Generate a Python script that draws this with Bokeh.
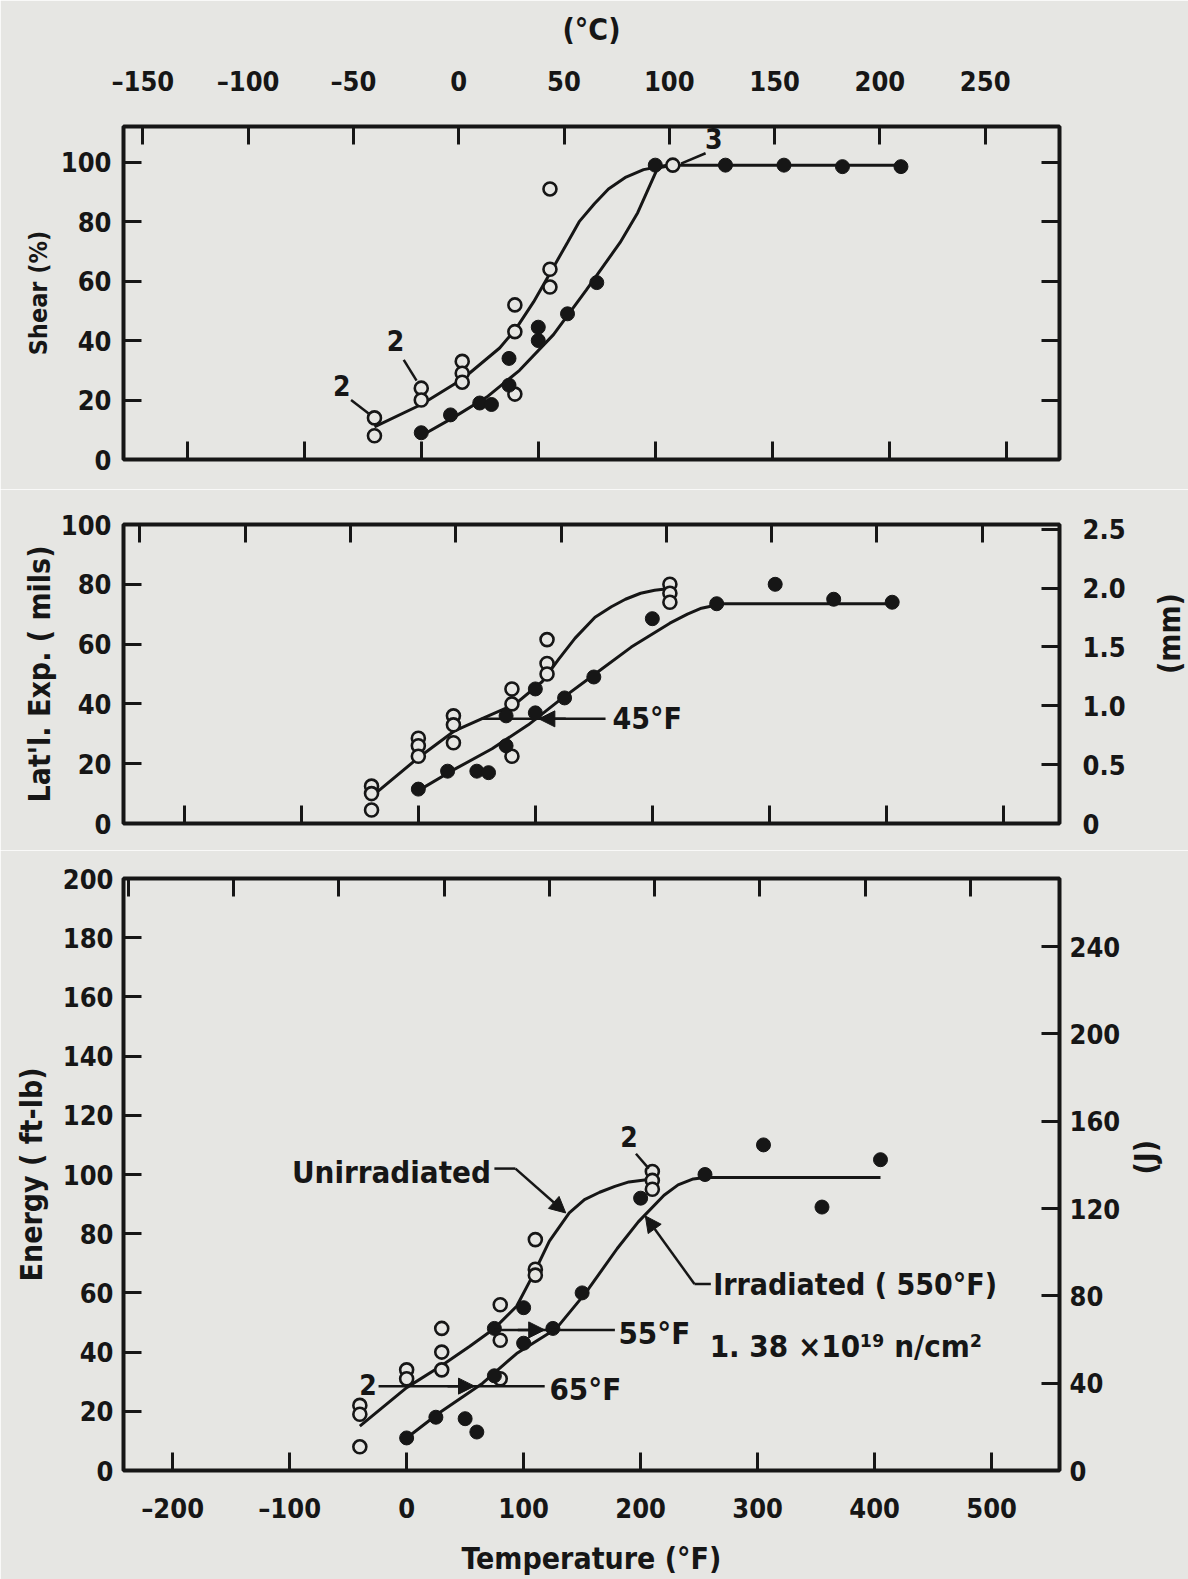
import math
from bokeh.plotting import figure
from bokeh.models import (Range1d, LinearAxis, FixedTicker, Arrow, NormalHead,
                          Label, CustomJSTickFormatter)
from bokeh.layouts import column
from bokeh.embed import file_html
from bokeh.resources import INLINE

# ---------------- data (temperature in deg F) ----------------
# Shear (%)
shear_unirr_T = [-40, -40, 0, 0, 35, 35, 35, 80, 80, 80, 110, 110, 110, 215]
shear_unirr_V = [14, 8, 24, 20, 33, 29, 26, 52, 43, 22, 91, 64, 58, 99]
shear_irr_T = [0, 25, 50, 60, 75, 75, 100, 100, 125, 150, 200, 260, 310, 360, 410]
shear_irr_V = [9, 15, 19, 18.5, 34, 25, 44.5, 40, 49, 59.5, 99, 99, 99, 98.5, 98.5]
shear_unirr_curve_T = [-40, 0, 35, 67, 81, 96, 112, 125, 135, 148, 160, 175, 190, 210]
shear_unirr_curve_V = [11, 18.5, 27, 37.5, 44, 53, 64, 73, 80, 86, 91, 95, 97.5, 99]
shear_irr_curve_T = [0, 27, 56, 84, 113, 141, 170, 185, 202, 215, 410]
shear_irr_curve_V = [8, 14, 21, 30, 42, 57, 73, 83, 98, 99, 99]

# Lateral expansion (mils)
lat_unirr_T = [-40, -40, -40, 0, 0, 0, 30, 30, 30, 80, 80, 80, 110, 110, 110, 215, 215, 215]
lat_unirr_V = [12.5, 10, 4.5, 28.5, 26, 22.5, 36, 33, 27, 45, 40, 22.5, 61.5, 53.5, 50, 80, 77, 74]
lat_irr_T = [0, 25, 50, 60, 75, 75, 100, 100, 125, 150, 200, 255, 305, 355, 405]
lat_irr_V = [11.5, 17.5, 17.5, 17, 26, 36, 45, 37, 42, 49, 68.5, 73.5, 80, 75, 74]
lat_unirr_curve_T = [-40, 0, 31, 54, 83, 106, 120, 134, 151, 165, 177, 190, 202, 213]
lat_unirr_curve_V = [9, 22, 31, 35, 40, 47.5, 55, 62, 69, 72.5, 75, 77, 78, 78.5]
lat_irr_curve_T = [0, 28, 63, 94, 120, 151, 182, 215, 230, 242, 260, 405]
lat_irr_curve_V = [11, 17.5, 25, 33, 41, 50, 59, 67, 70, 72, 73.5, 73.5]

# Energy (ft-lb)
en_unirr_T = [-40, -40, -40, 0, 0, 30, 30, 30, 80, 80, 80, 110, 110, 110, 210, 210, 210]
en_unirr_V = [22, 19, 8, 34, 31, 48, 40, 34, 56, 44, 31, 78, 68, 66, 101, 98, 95]
en_irr_T = [0, 25, 50, 60, 75, 75, 100, 100, 125, 150, 200, 255, 305, 355, 405]
en_irr_V = [11, 18, 17.5, 13, 48, 32, 55, 43, 48, 60, 92, 100, 110, 89, 105]
en_unirr_curve_T = [-40, 0, 30, 54, 75, 94, 108, 122, 139, 152, 165, 178, 190, 210]
en_unirr_curve_V = [15, 28, 35.5, 42, 48, 55.5, 66, 77.5, 87, 91.5, 94, 96, 97.5, 98.5]
en_irr_curve_T = [0, 28, 65, 94, 128, 153, 180, 198, 220, 232, 245, 255, 405]
en_irr_curve_V = [11, 19.5, 29.5, 39.5, 48, 60, 75, 84, 93, 96.5, 98.5, 99, 99]

F_ticks = [-200, -100, 0, 100, 200, 300, 400, 500]
C_ticks = [-150, -100, -50, 0, 50, 100, 150, 200, 250]
shear_ticks = [0, 20, 40, 60, 80, 100]
lat_ticks = [0, 20, 40, 60, 80, 100]
mm_ticks = [0, 0.5, 1.0, 1.5, 2.0, 2.5]
en_ticks = [0, 20, 40, 60, 80, 100, 120, 140, 160, 180, 200]
J_ticks = [0, 40, 80, 120, 160, 200, 240]

# ---------------- style ----------------
INK = "#161616"
BG = "#e6e6e3"
FONT = "DejaVu Sans Condensed"
SPAN = 800
FW = 936
LEFT = 123
TOTAL_W = 1188

neg_fmt = CustomJSTickFormatter(code="return tick < 0 ? '\u2013' + Math.abs(tick) : '' + tick;")
mm_fmt = CustomJSTickFormatter(code="return tick == 0 ? '0' : tick.toFixed(1);")
blank_fmt = CustomJSTickFormatter(code="return '';")


def style_axis(ax, ticks, labels=True, size="27px", title=None, fmt=None, title_size="30px"):
    ax.ticker = FixedTicker(ticks=ticks)
    ax.axis_line_color = None
    ax.major_tick_in = 18
    ax.major_tick_out = 0
    ax.major_tick_line_width = 3
    ax.major_tick_line_color = INK
    ax.minor_tick_line_color = None
    ax.major_label_text_font = FONT
    ax.major_label_text_font_style = "bold"
    ax.major_label_text_color = INK
    ax.major_label_text_font_size = size
    if not labels:
        ax.formatter = blank_fmt
        ax.major_label_standoff = 0
    elif fmt is not None:
        ax.formatter = fmt
    if title:
        ax.axis_label = title
        ax.axis_label_text_font = FONT
        ax.axis_label_text_font_style = "bold"
        ax.axis_label_text_color = INK
        ax.axis_label_text_font_size = title_size


def make_fig(fh, yr, top, bottom, xmin):
    p = figure(frame_width=FW, frame_height=fh,
               x_range=Range1d(xmin, xmin + SPAN), y_range=Range1d(*yr),
               min_border_left=LEFT, min_border_right=TOTAL_W - LEFT - FW,
               min_border_top=top, min_border_bottom=bottom,
               output_backend="svg", toolbar_location=None,
               background_fill_color=BG, border_fill_color=BG,
               outline_line_color=INK, outline_line_width=4)
    p.grid.visible = False
    p.extra_x_ranges = {"C": Range1d((xmin - 32) / 1.8, (xmin + SPAN - 32) / 1.8)}
    return p


def curve_and_points(p, cuT, cuV, ciT, ciV, uT, uV, iT, iV):
    p.line(cuT, cuV, line_width=3, color=INK)
    p.line(ciT, ciV, line_width=3, color=INK)
    p.scatter(uT, uV, marker="circle", size=13, fill_color=BG, line_color=INK, line_width=2.6)
    p.scatter(iT, iV, marker="circle", size=14, fill_color=INK, line_color=INK)


def text(p, x, y, t, size="31px", align="left"):
    p.add_layout(Label(x=x, y=y, text=t, text_font=FONT, text_font_size=size,
                       text_font_style="bold", text_color=INK,
                       text_align=align, text_baseline="middle"))


def seg(p, x0, y0, x1, y1, head=False, w=2.5):
    p.add_layout(Arrow(x_start=x0, y_start=y0, x_end=x1, y_end=y1,
                       line_color=INK, line_width=w,
                       end=NormalHead(size=16, fill_color=INK, line_color=INK) if head else None))


# ---------------- top panel: shear ----------------
p1 = make_fig(333, (0, 112), 126, 30, -254.5)
style_axis(p1.xaxis[0], F_ticks, labels=False)
style_axis(p1.yaxis[0], shear_ticks, title="Shear (%)", title_size="25px")
p1.yaxis[0].major_label_standoff = 12
p1.yaxis[0].axis_label_standoff = 5
ax_r = LinearAxis()
style_axis(ax_r, shear_ticks, labels=False)
p1.add_layout(ax_r, "right")
ax_c = LinearAxis(x_range_name="C")
style_axis(ax_c, C_ticks, size="27px", title="(\u00b0C)", fmt=neg_fmt)
ax_c.major_label_standoff = 30
ax_c.axis_label_standoff = 16
p1.add_layout(ax_c, "above")
curve_and_points(p1, shear_unirr_curve_T, shear_unirr_curve_V, shear_irr_curve_T, shear_irr_curve_V,
                 shear_unirr_T, shear_unirr_V, shear_irr_T, shear_irr_V)
text(p1, -68, 25, "2", size="28px", align="center")
seg(p1, -60, 20, -45, 15.5)
text(p1, -22, 40, "2", size="28px", align="center")
seg(p1, -15, 33.5, -4, 26.5)
text(p1, 250, 108, "3", size="28px", align="center")
seg(p1, 243, 103, 222, 99.5)

# ---------------- middle panel: lateral expansion ----------------
p2 = make_fig(299, (0, 100), 35, 27, -252)
p2.extra_y_ranges = {"mm": Range1d(0, 100 * 0.0254)}
style_axis(p2.xaxis[0], F_ticks, labels=False)
style_axis(p2.yaxis[0], lat_ticks, title="Lat'l. Exp. ( mils)")
p2.yaxis[0].major_label_standoff = 12
p2.yaxis[0].axis_label_standoff = 1
ax_c2 = LinearAxis(x_range_name="C")
style_axis(ax_c2, C_ticks, labels=False)
p2.add_layout(ax_c2, "above")
ax_mm = LinearAxis(y_range_name="mm")
style_axis(ax_mm, mm_ticks, title="(mm)", fmt=mm_fmt)
ax_mm.major_label_standoff = 23
ax_mm.axis_label_standoff = 41
ax_mm.axis_label_orientation = math.pi / 2
p2.add_layout(ax_mm, "right")
curve_and_points(p2, lat_unirr_curve_T, lat_unirr_curve_V, lat_irr_curve_T, lat_irr_curve_V,
                 lat_unirr_T, lat_unirr_V, lat_irr_T, lat_irr_V)
seg(p2, 54, 35, 160, 35)
seg(p2, 126, 35, 103, 35, head=True)
text(p2, 166, 35, "45\u00b0F", size="30px")

# ---------------- bottom panel: energy ----------------
p3 = make_fig(592, (0, 200), 28, 109, -242)
p3.extra_y_ranges = {"J": Range1d(0, 200 * 1.3558)}
style_axis(p3.xaxis[0], F_ticks, title="Temperature (\u00b0F)", fmt=neg_fmt)
p3.xaxis[0].major_label_standoff = 22
p3.xaxis[0].axis_label_standoff = 14
style_axis(p3.yaxis[0], en_ticks, title="Energy ( ft-lb)")
p3.yaxis[0].major_label_standoff = 10
p3.yaxis[0].axis_label_standoff = 11
ax_c3 = LinearAxis(x_range_name="C")
style_axis(ax_c3, C_ticks, labels=False)
p3.add_layout(ax_c3, "above")
ax_j = LinearAxis(y_range_name="J")
style_axis(ax_j, J_ticks, title="(J)")
ax_j.major_label_standoff = 10
ax_j.axis_label_standoff = 22
ax_j.axis_label_orientation = math.pi / 2
p3.add_layout(ax_j, "right")
curve_and_points(p3, en_unirr_curve_T, en_unirr_curve_V, en_irr_curve_T, en_irr_curve_V,
                 en_unirr_T, en_unirr_V, en_irr_T, en_irr_V)
text(p3, 72, 101, "Unirradiated", align="right")
seg(p3, 75, 102, 93, 102)
seg(p3, 93, 102, 136, 87, head=True)
text(p3, 262, 63, "Irradiated ( 550\u00b0F)", size="30px")
seg(p3, 260, 63, 246, 63)
seg(p3, 246, 63, 204, 86, head=True)
text(p3, 259, 42, "1. 38 \u00d710\u00b9\u2079 n/cm\u00b2")
seg(p3, 75, 47.5, 178, 47.5)
seg(p3, 95, 47.5, 118, 47.5, head=True)
text(p3, 181, 46.5, "55\u00b0F")
seg(p3, -24, 28.5, 118, 28.5)
seg(p3, 35, 28.5, 58, 28.5, head=True)
text(p3, 122, 27.5, "65\u00b0F")
text(p3, -33, 29, "2", size="28px", align="center")
text(p3, 190, 113, "2", size="28px", align="center")
seg(p3, 196, 107, 207, 102)

layout = column(p1, p2, p3)
open("out.html", "w").write(file_html(layout, INLINE))
